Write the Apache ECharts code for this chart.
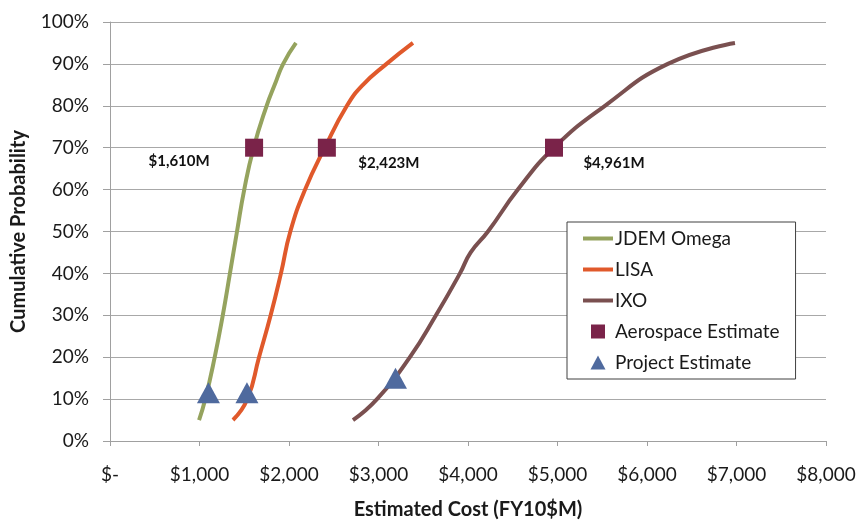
<!DOCTYPE html>
<html>
<head>
<meta charset="utf-8">
<script src="https://cdn.jsdelivr.net/npm/echarts@6/dist/echarts.min.js"></script>
<style>html,body{margin:0;padding:0;background:#fff}#c{width:856px;height:521px}</style>
</head>
<body>
<div id="c"></div>
<script>
// ---- data ----
const xTicks = [0, 1000, 2000, 3000, 4000, 5000, 6000, 7000, 8000];
const yTicks = [0, 10, 20, 30, 40, 50, 60, 70, 80, 90, 100];
const jdemCost = [995, 1065, 1170, 1260, 1340, 1419, 1500, 1605, 1750, 1840, 1935, 2078];
const jdemProb = [5, 10, 20, 30, 40, 50, 60, 70, 80, 85, 90, 95];
const lisaCost = [1374, 1535, 1665, 1795, 1910, 2015, 2180, 2400, 2647, 2826, 3090, 3385];
const lisaProb = [5, 10, 20, 30, 40, 50, 60, 70, 80, 85, 90, 95];
const ixoCost = [2715, 2983, 3351, 3642, 3910, 4030, 4223, 4557, 4961, 5530, 6233, 6983];
const ixoProb = [5, 10, 20, 30, 40, 45, 50, 60, 70, 80, 90, 95];
const aeroCost = [1610, 2423, 4961];
const aeroProb = [70, 70, 70];
const projCost = [1100, 1530, 3190];
const projProb = [11.5, 11.5, 15];
const seriesNames = ['JDEM Omega', 'LISA', 'IXO', 'Aerospace Estimate', 'Project Estimate'];

// ---- styles ----
const FONT = 'Lato';
const colors = ['#95A35E', '#E0592B', '#7A5050', '#7A2349', '#4F6A9E'];
const labelOffsets = [[-75, 13], [62, 15], [60, 15]];
const legendIcons = [
  'path://M0,0H30V4H0Z', 'path://M0,0H30V4H0Z', 'path://M0,0H30V4H0Z',
  'path://M0,0H13V13H0Z', 'path://M7.5,0L15,14H0Z'
];

const zip = (a, b) => a.map((v, i) => [v, b[i]]);
const fmtMoney = v => v === 0 ? '$-' : '$' + v.toLocaleString('en-US');

const lineSeries = (name, xs, ys, color) => ({
  name, type: 'line', data: zip(xs, ys), smooth: 0.5, symbol: 'none',
  lineStyle: { color, width: 4 }, itemStyle: { color }, z: 2
});

const option = {
  animation: false,
  textStyle: { fontFamily: FONT },
  grid: { left: 110, right: 30, top: 22, bottom: 80, containLabel: false, outerBoundsMode: 'none' },
  xAxis: {
    type: 'value', min: xTicks[0], max: xTicks[xTicks.length - 1], interval: 1000,
    axisLine: { show: true, lineStyle: { color: '#A0A0A0', width: 1 } },
    axisTick: { show: true, length: 5, lineStyle: { color: '#A0A0A0' } },
    splitLine: { show: false },
    axisLabel: { formatter: fmtMoney, color: '#1a1a1a', fontSize: 19, margin: 24, fontFamily: FONT },
    name: 'Estimated Cost (FY10$M)', nameLocation: 'middle', nameGap: 59,
    nameTextStyle: { fontWeight: 'bold', fontSize: 20, color: '#1a1a1a', fontFamily: FONT }
  },
  yAxis: {
    type: 'value', min: yTicks[0], max: yTicks[yTicks.length - 1], interval: 10,
    axisLine: { show: true, lineStyle: { color: '#A0A0A0', width: 1 } },
    axisTick: { show: true, length: 7, lineStyle: { color: '#A0A0A0' } },
    splitLine: { show: true, lineStyle: { color: '#A8A8A8', width: 1 } },
    axisLabel: { formatter: v => v + '%', color: '#1a1a1a', fontSize: 19, margin: 21, fontFamily: FONT },
    name: 'Cumulative Probability', nameLocation: 'middle', nameGap: 81, nameRotate: 90,
    nameTextStyle: { fontWeight: 'bold', fontSize: 20, color: '#1a1a1a', fontFamily: FONT }
  },
  legend: {
    orient: 'vertical', left: 567, top: 222,
    backgroundColor: '#fff', borderColor: '#404040', borderWidth: 1,
    padding: [7, 16, 7, 16], itemGap: 12, itemWidth: 30, itemHeight: 14,
    symbolKeepAspect: true,
    textStyle: { fontSize: 19, color: '#1a1a1a', fontFamily: FONT, padding: [0, 0, 0, -3] },
    data: seriesNames.map((n, i) => ({ name: n, icon: legendIcons[i], itemStyle: { borderWidth: 0, opacity: 1 } }))
  },
  series: [
    lineSeries(seriesNames[0], jdemCost, jdemProb, colors[0]),
    lineSeries(seriesNames[1], lisaCost, lisaProb, colors[1]),
    lineSeries(seriesNames[2], ixoCost, ixoProb, colors[2]),
    {
      name: seriesNames[3], type: 'scatter', symbol: 'rect', symbolSize: 18, z: 5,
      itemStyle: { color: colors[3], opacity: 1 },
      data: zip(aeroCost, aeroProb).map((d, i) => ({
        value: d,
        label: {
          show: true, position: 'inside', offset: labelOffsets[i],
          formatter: p => fmtMoney(p.value[0]) + 'M',
          fontWeight: 'bold', fontSize: 15, color: '#111', fontFamily: FONT
        }
      }))
    },
    {
      name: seriesNames[4], type: 'scatter', symbol: 'triangle', symbolSize: [23, 21], z: 6,
      itemStyle: { color: colors[4], opacity: 1 },
      data: zip(projCost, projProb)
    }
  ]
};

const chart = echarts.init(document.getElementById('c'), null, { renderer: 'canvas' });
chart.setOption(option);
</script>
</body>
</html>
